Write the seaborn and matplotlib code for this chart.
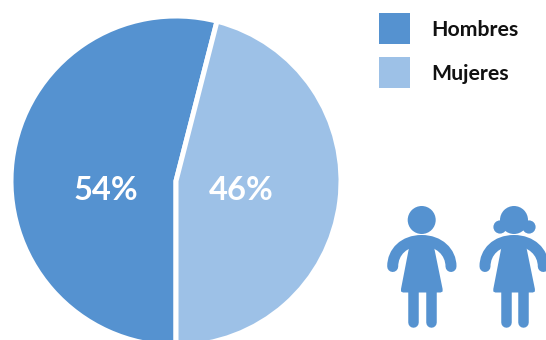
import matplotlib
matplotlib.use("Agg")
import matplotlib.pyplot as plt
import seaborn as sns
from matplotlib.patches import Rectangle, Circle, Polygon, PathPatch
from matplotlib.path import Path

# data
categories = ["Hombres", "Mujeres"]
shares = [54, 46]
colors = ["#5592D0", "#9DC1E7"]

W, H = 546, 340

sns.set_theme(style="white")
plt.rcParams["font.family"] = ["Lato", "DejaVu Sans"]


def fy(y):
    # picture pixels run top-down, the axes bottom-up
    return H - y


def stroke(ax, pts, codes, width):
    path = Path([(x, fy(y)) for x, y in pts], codes)
    ax.add_patch(PathPatch(path, fill=False, ec=colors[0], lw=width * 0.72,
                           capstyle="round", joinstyle="round"))


def draw_person(ax, dx, pigtails=False):
    # head
    ax.add_patch(Circle((421.7 + dx, fy(220)), 14, color=colors[0], lw=0))
    if pigtails:
        ax.add_patch(Circle((407.7 + dx, fy(227)), 6.6, color=colors[0], lw=0))
        ax.add_patch(Circle((436.7 + dx, fy(227)), 6.6, color=colors[0], lw=0))
    # arms and shoulders
    stroke(ax, [(392.7 + dx, 266.5), (392.7 + dx, 252), (404 + dx, 240.5), (421.7 + dx, 240.5),
                (439 + dx, 240.5), (451 + dx, 252), (451 + dx, 266.5)],
           [Path.MOVETO, Path.CURVE4, Path.CURVE4, Path.CURVE4,
            Path.CURVE4, Path.CURVE4, Path.CURVE4], 11)
    # dress
    dress = [(410.5, 240), (432.6, 240), (442.6, 289), (442.6, 291.5), (440.6, 292.5),
             (403, 292.5), (401, 291.5), (401, 289)]
    ax.add_patch(Polygon([(x + dx, fy(y)) for x, y in dress], color=colors[0], lw=0))
    # legs
    for x in (413.3, 430.7):
        stroke(ax, [(x + dx, 290), (x + dx, 321.5)], [Path.MOVETO, Path.LINETO], 10.5)


def main():
    fig = plt.figure(figsize=(W / 100, H / 100), dpi=100)
    ax = fig.add_axes([0, 0, 1, 1])

    ax.pie(shares, colors=colors, startangle=270, counterclock=False,
           center=(176, fy(181)), radius=165,
           wedgeprops={"edgecolor": "white", "linewidth": 3.6})
    ax.set_xlim(0, W)
    ax.set_ylim(0, H)
    ax.set_aspect("equal")
    ax.axis("off")

    # slice labels
    for x, v in zip([106, 241], shares):
        ax.text(x, fy(190), f"{v}%", color="white", fontsize=23.5, fontweight="bold",
                ha="center", va="center")

    # legend
    for y, c, name in zip([13, 57], colors, categories):
        ax.add_patch(Rectangle((379, fy(y + 31)), 31, 31, color=c, lw=0))
        ax.text(431.5, fy(y + 17), name, color="#111111", fontsize=15.3, fontweight="bold",
                ha="left", va="center")

    draw_person(ax, 0)
    draw_person(ax, 92.3, pigtails=True)

    fig.savefig("out.png", dpi=100)


if __name__ == "__main__":
    main()
